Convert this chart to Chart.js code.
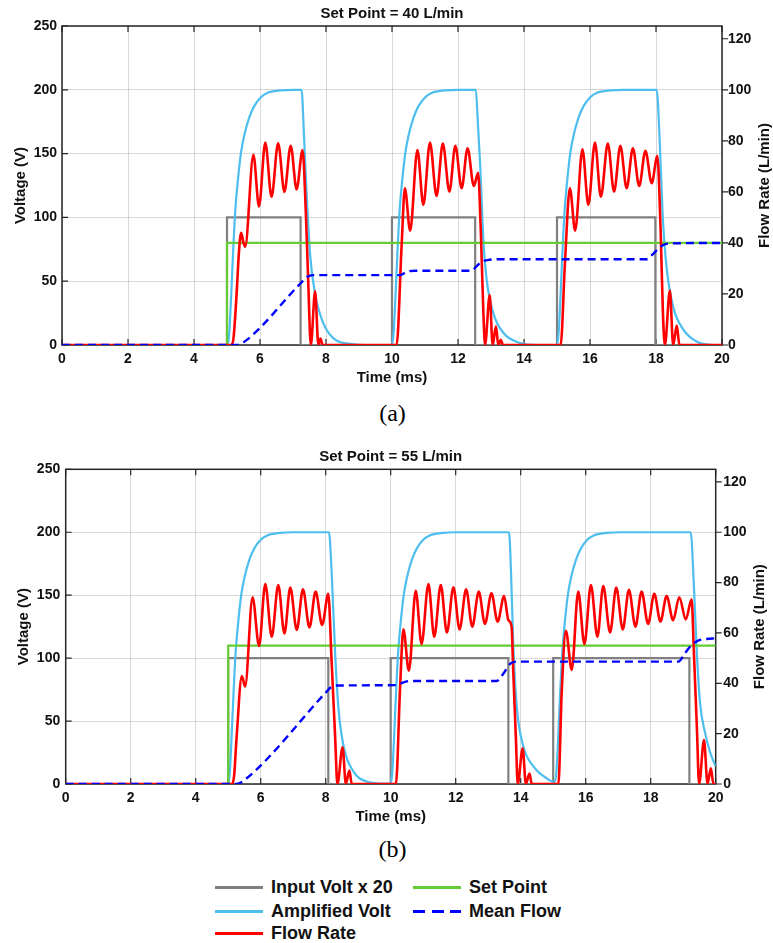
<!DOCTYPE html>
<html>
<head>
<meta charset="utf-8">
<script src="https://cdn.jsdelivr.net/npm/chart.js@4.4.1/dist/chart.umd.min.js"></script>
<style>
  html, body { margin: 0; padding: 0; background: #fff; }
  body { width: 773px; height: 943px; position: relative; overflow: hidden;
         font-family: "Liberation Sans", Arial, sans-serif; }
  canvas { position: absolute; left: 0; }
  #chartA { top: 0; }
  #chartB { top: 445px; }
  .caption { position: absolute; left: 0; width: 785px; text-align: center;
             font-family: "Liberation Serif", "Times New Roman", serif; font-size: 24px;
             line-height: 28px; color: #000; }
  .leg { position: absolute; height: 24px; display: flex; align-items: center;
         font-weight: bold; font-size: 18px; color: #111; white-space: nowrap; }
  .leg i { display: block; width: 48px; height: 3px; margin-right: 8px; }
</style>
</head>
<body>
<canvas id="chartA" width="773" height="392"></canvas>
<div class="caption" style="top:399px">(a)</div>
<canvas id="chartB" width="773" height="386"></canvas>
<div class="caption" style="top:835px">(b)</div>

<div class="leg" style="left:215px; top:875px"><i style="background:#808080"></i>Input Volt x 20</div>
<div class="leg" style="left:413px; top:875px"><i style="background:#66cc33"></i>Set Point</div>
<div class="leg" style="left:215px; top:899px"><i style="background:#4dbeee"></i>Amplified Volt</div>
<div class="leg" style="left:413px; top:899px"><i style="background:repeating-linear-gradient(to right,#0000ff 0 12px,transparent 12px 18.5px)"></i>Mean Flow</div>
<div class="leg" style="left:215px; top:921px"><i style="background:#ff0000"></i>Flow Rate</div>

<script>
// ---- panel (a): set point 40 L/min ----  [time ms, value]
const inputVoltA = [[0,0],[5,0],[5,100],[7.23,100],[7.23,0],[10,0],[10,100],[12.52,100],[12.52,0],
  [15,0],[15,100],[17.98,100],[17.98,0],[20,0]];

const ampVoltA = [[0,0],[5.02,0],[5.07,10],[5.12,35],[5.18,70],[5.25,105],[5.33,129],[5.42,150],[5.52,164],
  [5.67,178],[5.82,187],[6.02,194],[6.22,197.5],[6.62,199.5],[7.02,200],[7.26,200],[7.33,166],[7.41,120],
  [7.52,70],[7.67,40],[7.92,17],[8.29,4],[8.79,0.8],[9.2,0],[10,0],[10.05,10],[10.1,35],[10.16,70],
  [10.23,105],[10.31,129],[10.4,150],[10.5,164],[10.65,178],[10.8,187],[11,194],[11.2,197.5],[11.6,199.5],
  [12,200],[12.54,200],[12.6,175],[12.67,142],[12.77,82],[12.87,51],[13.07,25],[13.38,9.4],[13.88,1.6],
  [14.4,0],[15,0],[15.05,10],[15.1,35],[15.16,70],[15.23,105],[15.31,129],[15.4,150],[15.5,164],
  [15.65,178],[15.8,187],[16,194],[16.2,197.5],[16.6,199.5],[17,200],[18.02,200],[18.12,155],[18.2,103],
  [18.32,61],[18.52,30],[18.83,12],[19.23,2.7],[19.73,0],[20,0]];

const flowRateA = [[0,0],[5.14,0],[5.2,3],[5.3,22],[5.36,36],[5.43,44],[5.5,40],[5.55,38.5],[5.8,74.5],
  [5.97,54.3],[6.16,79.3],[6.35,58.1],[6.55,79],[6.74,60],[6.93,78.1],[7.11,61],[7.29,76.4],[7.39,51.6],
  [7.46,25.5],[7.54,0],[7.67,21],[7.77,0],[7.83,2.5],[7.9,0],
  [10.14,0],[10.29,38.5],[10.39,61.4],[10.55,44.8],[10.77,76.4],[10.95,54.9],[11.15,79.3],[11.35,58.4],
  [11.54,78.9],[11.74,60.1],[11.92,78.1],[12.11,61.4],[12.29,77.1],[12.48,62.3],[12.61,67.5],[12.69,45],
  [12.77,12.4],[12.82,0],[12.96,19.6],[13.05,0],[13.15,7.3],[13.22,0],[13.3,2],[13.36,0],
  [15.11,0],[15.24,32],[15.39,61.4],[15.55,44.8],[15.77,76.7],[15.95,54.9],[16.15,79.3],[16.33,58.1],
  [16.54,78.9],[16.73,60.1],[16.92,78.1],[17.11,61.4],[17.3,77.1],[17.49,62.3],[17.68,76.1],[17.87,63.4],
  [18.04,74],[18.14,45],[18.21,12.4],[18.27,0],[18.42,21.3],[18.52,0],[18.63,7.6],[18.71,0],[20,0]];

const setPointA = [[0,0],[5,0],[5,40],[20,40]];

const meanFlowA = [[0,0],[5.3,0],[5.6,2],[7.26,24.6],[7.42,26.6],[7.6,27.4],[10.25,27.4],[10.45,28.7],
  [10.7,29.1],[12.4,29.1],[12.56,30.8],[12.7,32.5],[12.95,33.4],[13.3,33.6],[17.72,33.6],[17.9,35.5],
  [18.05,37.5],[18.22,39.2],[18.48,39.8],[20,40]];

// ---- panel (b): set point 55 L/min ----
const inputVoltB = [[0,0],[5,0],[5,100],[8.08,100],[8.08,0],[10,0],[10,100],[13.62,100],[13.62,0],
  [15,0],[15,100],[19.19,100],[19.19,0],[20,0]];

const ampVoltB = [[0,0],[5,0],[5.05,10],[5.1,35],[5.16,70],[5.23,105],[5.31,129],[5.4,150],[5.5,164],
  [5.65,178],[5.8,187],[6,194],[6.2,197.5],[6.6,199.5],[7,200],[8.1,200],[8.18,170],[8.29,104],[8.39,61],
  [8.55,30],[8.85,10],[9.26,2],[9.87,0.3],[10,0.3],[10.05,10],[10.1,35],[10.16,70],[10.23,105],
  [10.31,129],[10.4,150],[10.5,164],[10.65,178],[10.8,187],[11,194],[11.2,197.5],[11.6,199.5],[12,200],
  [13.64,200],[13.7,170],[13.77,112],[13.88,61],[14.08,30],[14.39,14],[14.8,4.5],[15.05,1.5],[15.1,10],
  [15.15,35],[15.21,70],[15.28,105],[15.36,129],[15.45,150],[15.55,164],[15.7,178],[15.85,187],
  [16.05,194],[16.25,197.5],[16.65,199.5],[17.05,200],[19.23,200],[19.33,157],[19.42,104],[19.52,64],
  [19.67,41],[19.83,25],[20,14]];

const flowRateB = [[0,0],[5.11,0],[5.18,3],[5.26,18.8],[5.42,42.9],[5.52,38.7],[5.75,74.2],[5.95,54.8],
  [6.14,79.4],[6.34,58.5],[6.54,79],[6.73,59.8],[6.91,78],[7.11,61.2],[7.3,77.3],[7.5,62.2],[7.69,76.4],
  [7.89,63.2],[8.08,75.5],[8.18,49.3],[8.29,18.8],[8.36,0],[8.52,14.6],[8.62,0],[8.73,5.3],[8.8,0],
  [10.16,0],[10.29,38.7],[10.39,61.4],[10.56,45],[10.77,76.7],[10.95,55.6],[11.16,79.4],[11.34,58.5],
  [11.54,79],[11.73,60.2],[11.93,78.1],[12.12,61.4],[12.32,77.3],[12.51,62.5],[12.71,76.4],[12.9,63.6],
  [13.1,75.7],[13.29,64.5],[13.49,74.7],[13.62,65.1],[13.72,62.5],[13.77,45],[13.85,18.8],[13.91,0],
  [14.06,14.2],[14.16,0],[14.27,4.2],[14.34,0],
  [15.16,0],[15.26,36],[15.39,60.9],[15.57,45.3],[15.77,76.4],[15.96,55.6],[16.16,79],[16.36,58.5],
  [16.54,78.6],[16.75,60.2],[16.94,78],[17.14,61.4],[17.33,77.1],[17.53,62.5],[17.72,76.4],[17.92,63.6],
  [18.11,75.5],[18.3,64.5],[18.49,74.7],[18.69,65.1],[18.88,74.2],[19.08,65.4],[19.26,73.4],[19.33,51.9],
  [19.42,22.8],[19.49,0],[19.64,17.5],[19.75,0],[19.85,6.2],[19.93,0],[20,0]];

const setPointB = [[0,0],[5,0],[5,55],[20,55]];

const meanFlowB = [[0,0],[5.25,0],[5.57,2.3],[8.03,36.7],[8.15,38.3],[8.3,39.1],[10.2,39.3],[10.39,40.4],
  [10.6,40.9],[13.26,40.9],[13.46,43.7],[13.67,47.7],[13.87,48.6],[18.85,48.6],[19.05,51.9],[19.26,55.2],
  [19.51,57.2],[19.72,57.6],[20,57.9]];

const COL = {
  input: "#808080",
  amp:   "#4dbeee",
  flow:  "#ff0000",
  set:   "#66cc33",
  mean:  "#0000ff",
  axis:  "#262626",
  grid:  "rgba(0,0,0,0.15)",
};
const FONT = "'Liberation Sans', Arial, sans-serif";

const pts = (arr) => arr.map(([x, y]) => ({ x, y }));

// box, inward ticks and the right-hand title (reads bottom to top, like MATLAB)
const framePlugin = {
  id: "frame",
  beforeDatasetsDraw(chart) {
    const { ctx, chartArea: a, scales } = chart;
    ctx.save();
    ctx.strokeStyle = COL.axis;
    ctx.lineWidth = 1.2;
    ctx.beginPath();
    scales.x.ticks.forEach((t) => {
      const px = scales.x.getPixelForValue(t.value);
      ctx.moveTo(px, a.bottom); ctx.lineTo(px, a.bottom - 6);
      ctx.moveTo(px, a.top);    ctx.lineTo(px, a.top + 6);
    });
    scales.y.ticks.forEach((t) => {
      const py = scales.y.getPixelForValue(t.value);
      ctx.moveTo(a.left, py); ctx.lineTo(a.left + 6, py);
    });
    scales.y2.ticks.forEach((t) => {
      const py = scales.y2.getPixelForValue(t.value);
      ctx.moveTo(a.right, py); ctx.lineTo(a.right + 6, py);
    });
    ctx.stroke();
    ctx.lineWidth = 1.5;
    ctx.strokeRect(a.left, a.top, a.right - a.left, a.bottom - a.top);
    ctx.restore();
  },
  afterDraw(chart, args, opts) {
    const { ctx, chartArea: a } = chart;
    ctx.save();
    ctx.translate(opts.titleX, (a.top + a.bottom) / 2);
    ctx.rotate(-Math.PI / 2);
    ctx.font = "bold 15px " + FONT;
    ctx.fillStyle = "#111";
    ctx.textAlign = "center";
    ctx.textBaseline = "middle";
    ctx.fillText(opts.title, 0, 0);
    ctx.restore();
  },
};

function makeChart(id, title, series, lay) {
  return new Chart(document.getElementById(id), {
    type: "line",
    data: {
      datasets: [
        { label: "Mean Flow", data: pts(series.mean), yAxisID: "y2", borderColor: COL.mean,
          borderWidth: 2.4, borderDash: [8, 5], cubicInterpolationMode: "monotone", order: 0 },
        { label: "Flow Rate", data: pts(series.flow), yAxisID: "y2", borderColor: COL.flow,
          borderWidth: 2.6, cubicInterpolationMode: "monotone", order: 1 },
        { label: "Set Point", data: pts(series.set), yAxisID: "y2", borderColor: COL.set,
          borderWidth: 2.2, order: 2 },
        { label: "Amplified Volt", data: pts(series.amp), yAxisID: "y", borderColor: COL.amp,
          borderWidth: 2.2, cubicInterpolationMode: "monotone", order: 3 },
        { label: "Input Volt x 20", data: pts(series.input), yAxisID: "y", borderColor: COL.input,
          borderWidth: 2.2, order: 4 },
      ],
    },
    options: {
      responsive: false,
      animation: false,
      events: [],
      elements: { point: { radius: 0 } },
      layout: { padding: 0 },
      plugins: {
        legend: { display: false },
        tooltip: { enabled: false },
        title: {
          display: true, text: title, fullSize: false, color: "#111",
          font: { family: FONT, size: 15, weight: "bold", lineHeight: 1.2 },
          padding: { top: lay.titleTop, bottom: lay.titleBottom },
        },
        frame: { title: "Flow Rate (L/min)", titleX: lay.rightTitleX },
      },
      scales: {
        x: {
          type: "linear", min: 0, max: 20,
          ticks: { stepSize: 2, padding: 6, color: "#111", font: { family: FONT, size: 14, weight: "bold" } },
          grid: { color: COL.grid, drawTicks: false },
          border: { display: false },
          title: { display: true, text: "Time (ms)", color: "#111",
                   font: { family: FONT, size: 15, weight: "bold", lineHeight: 1.2 },
                   padding: { top: 0, bottom: 5 } },
          afterFit: (s) => { s.height = lay.xHeight; },
        },
        y: {
          position: "left", min: 0, max: 250,
          ticks: { stepSize: 50, padding: lay.leftPad, color: "#111", font: { family: FONT, size: 14, weight: "bold" } },
          grid: { color: COL.grid, drawTicks: false },
          border: { display: false },
          title: { display: true, text: "Voltage (V)", color: "#111",
                   font: { family: FONT, size: 15, weight: "bold", lineHeight: 1.2 },
                   padding: { top: lay.leftTitlePad, bottom: 0 } },
          afterFit: (s) => { s.width = lay.left; },
        },
        y2: {
          position: "right", min: 0, max: 125,
          ticks: { stepSize: 20, includeBounds: false, padding: lay.rightPad, color: "#111",
                   font: { family: FONT, size: 14, weight: "bold" } },
          grid: { drawOnChartArea: false, drawTicks: false },
          border: { display: false },
          afterFit: (s) => { s.width = lay.right; },
        },
      },
    },
    plugins: [framePlugin],
  });
}

makeChart("chartA", "Set Point = 40 L/min",
  { input: inputVoltA, amp: ampVoltA, flow: flowRateA, set: setPointA, mean: meanFlowA },
  { titleTop: 5, titleBottom: 3, xHeight: 47, left: 62, right: 51, leftPad: 5, leftTitlePad: 12,
    rightPad: 6, rightTitleX: 765 });

makeChart("chartB", "Set Point = 55 L/min",
  { input: inputVoltB, amp: ampVoltB, flow: flowRateB, set: setPointB, mean: meanFlowB },
  { titleTop: 3.3, titleBottom: 3, xHeight: 47, left: 65.7, right: 57.3, leftPad: 5.5, leftTitlePad: 15,
    rightPad: 7.5, rightTitleX: 760 });
</script>
</body>
</html>
